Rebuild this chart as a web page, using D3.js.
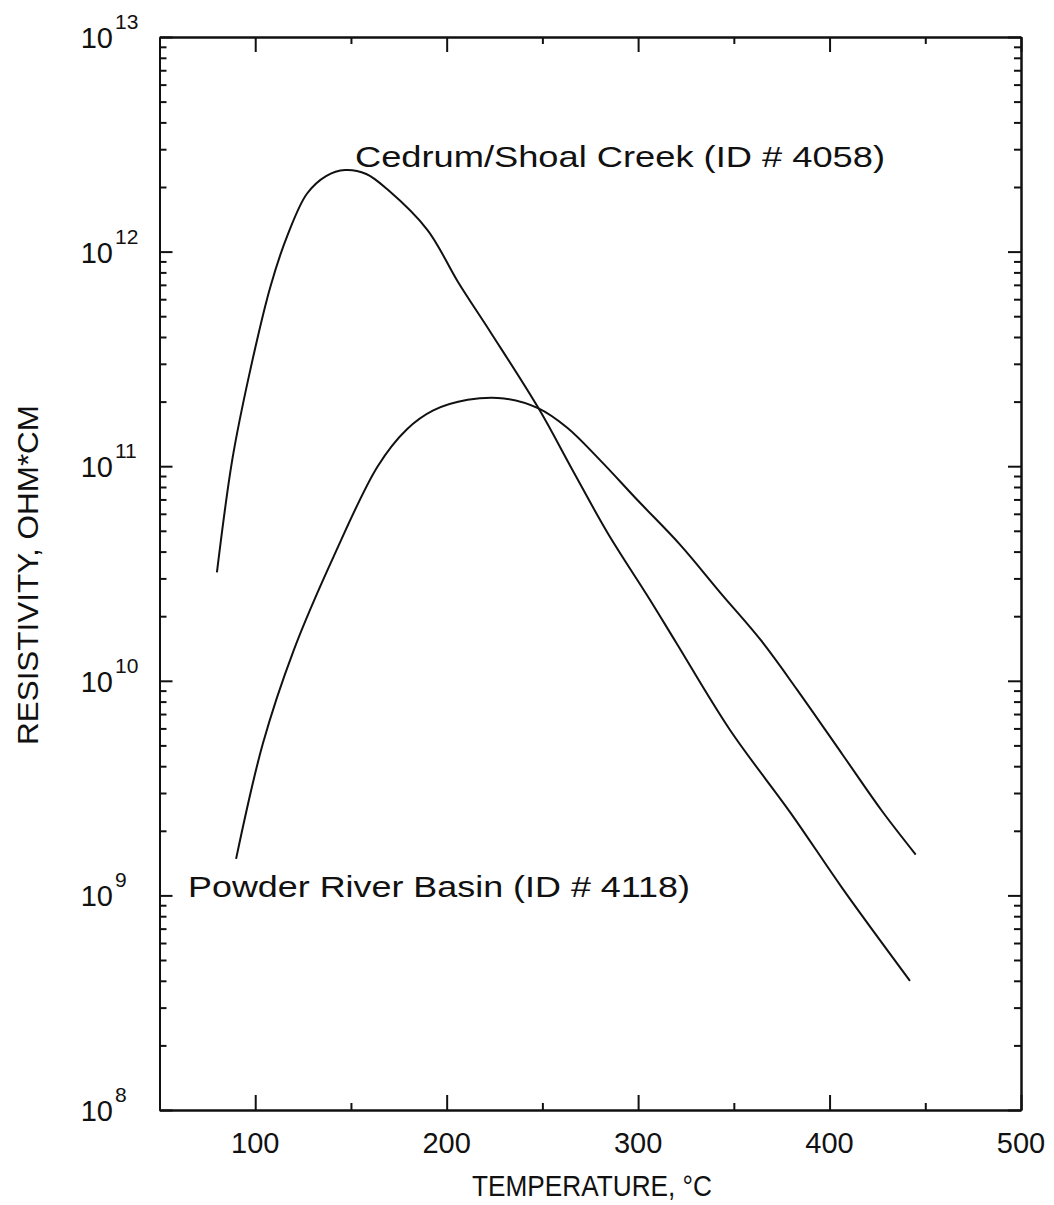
<!DOCTYPE html>
<html>
<head>
<meta charset="utf-8">
<script src="https://cdn.jsdelivr.net/npm/d3@7"></script>
<style>
  body { margin: 0; background: #fff; }
  text { font-family: "Liberation Sans", Arial, sans-serif; fill: #111; }
</style>
</head>
<body>
<svg id="chart" width="1054" height="1205"></svg>
<script>
// temperatures (deg C) and resistivities (ohm*cm)
const cedrumTemp = [80, 88, 97, 108, 117, 127, 137, 147, 158, 169, 190, 206, 223, 248, 266, 284, 306, 320, 348, 380, 407, 442];
const cedrumRes = [3.2e10, 1.07e11, 2.7e11, 6.9e11, 1.2e12, 1.86e12, 2.25e12, 2.4e12, 2.3e12, 1.95e12, 1.26e12, 7.2e11, 4.2e11, 1.86e11, 9.5e10, 4.9e10, 2.4e10, 1.5e10, 5.9e9, 2.4e9, 1.07e9, 4.0e8];

const powderTemp = [90, 104, 120, 141, 164, 179, 193, 211, 230, 248, 263, 280, 300, 322, 343, 364, 383, 407, 427, 445];
const powderRes = [1.48e9, 5.1e9, 1.38e10, 3.8e10, 1.0e11, 1.48e11, 1.82e11, 2.04e11, 2.07e11, 1.86e11, 1.51e11, 1.07e11, 6.9e10, 4.3e10, 2.57e10, 1.55e10, 9.1e9, 4.5e9, 2.5e9, 1.55e9];

const xTicks = [100, 200, 300, 400, 500];
const xMinor = [150, 250, 350, 450];
const yExponents = [8, 9, 10, 11, 12, 13];

const cedrumLabel = "Cedrum/Shoal Creek (ID # 4058)";
const powderLabel = "Powder River Basin (ID # 4118)";

let svg = d3.select("#chart");

let x = d3.scaleLinear().domain([50, 500]).range([159.5, 1021]);
let y = d3.scaleLog().domain([1e8, 1e13]).range([1110, 37]);

// minor ticks on the log axis: 2..9 in every decade
let yMinor = [];
for (let e = 8; e < 13; e++) {
  for (let k = 2; k <= 9; k++) yMinor.push(k * Math.pow(10, e));
}
let yMajor = yExponents.map(e => Math.pow(10, e));

function styleAxis(g) {
  g.selectAll("path, line").attr("stroke", "#111").attr("stroke-width", 2);
  g.selectAll("text").remove();
}

// left + right axes (ticks point inward)
svg.append("g").attr("transform", "translate(159.5,0)")
  .call(d3.axisRight(y).tickValues(yMajor).tickSize(13).tickSizeOuter(0)).call(styleAxis);
svg.append("g").attr("transform", "translate(159.5,0)")
  .call(d3.axisRight(y).tickValues(yMinor).tickSize(7).tickSizeOuter(0)).call(styleAxis);
svg.append("g").attr("transform", "translate(1021,0)")
  .call(d3.axisLeft(y).tickValues(yMajor).tickSize(13).tickSizeOuter(0)).call(styleAxis);
svg.append("g").attr("transform", "translate(1021,0)")
  .call(d3.axisLeft(y).tickValues(yMinor).tickSize(7).tickSizeOuter(0)).call(styleAxis);

// bottom + top axes
svg.append("g").attr("transform", "translate(0,1110)")
  .call(d3.axisTop(x).tickValues(xTicks).tickSize(15).tickSizeOuter(0)).call(styleAxis);
svg.append("g").attr("transform", "translate(0,1110)")
  .call(d3.axisTop(x).tickValues(xMinor).tickSize(7).tickSizeOuter(0)).call(styleAxis);
svg.append("g").attr("transform", "translate(0,37)")
  .call(d3.axisBottom(x).tickValues(xTicks).tickSize(15).tickSizeOuter(0)).call(styleAxis);
svg.append("g").attr("transform", "translate(0,37)")
  .call(d3.axisBottom(x).tickValues(xMinor).tickSize(7).tickSizeOuter(0)).call(styleAxis);

// x tick labels
svg.selectAll(".xlab").data(xTicks).join("text")
  .attr("class", "xlab")
  .attr("x", d => x(d))
  .attr("y", 1153)
  .attr("text-anchor", "middle")
  .attr("font-size", 29)
  .text(d => d);

// y tick labels as 10 with superscript exponent
let ylab = svg.selectAll(".ylab").data(yExponents).join("g").attr("class", "ylab");
ylab.append("text")
  .attr("x", 113)
  .attr("y", d => y(Math.pow(10, d)) + 11)
  .attr("text-anchor", "end")
  .attr("font-size", 29)
  .text("10");
ylab.append("text")
  .attr("x", 115)
  .attr("y", d => y(Math.pow(10, d)) - 8)
  .attr("font-size", 21)
  .text(d => d);

// axis titles
svg.append("text")
  .attr("x", 592)
  .attr("y", 1196)
  .attr("text-anchor", "middle")
  .attr("font-size", 29)
  .attr("textLength", 240)
  .attr("lengthAdjust", "spacingAndGlyphs")
  .text("TEMPERATURE, °C");

svg.append("text")
  .attr("transform", "translate(38,575) rotate(-90)")
  .attr("text-anchor", "middle")
  .attr("font-size", 30)
  .attr("textLength", 340)
  .attr("lengthAdjust", "spacingAndGlyphs")
  .text("RESISTIVITY, OHM*CM");

// curves
let line = d3.line()
  .x(d => x(d[0]))
  .y(d => y(d[1]))
  .curve(d3.curveCatmullRom.alpha(0.5));

let cedrum = cedrumTemp.map((t, i) => [t, cedrumRes[i]]);
let powder = powderTemp.map((t, i) => [t, powderRes[i]]);

svg.append("path").datum(cedrum)
  .attr("d", line).attr("fill", "none").attr("stroke", "#111").attr("stroke-width", 2);
svg.append("path").datum(powder)
  .attr("d", line).attr("fill", "none").attr("stroke", "#111").attr("stroke-width", 2);

// curve labels
svg.append("text")
  .attr("x", 355).attr("y", 167)
  .attr("font-size", 29)
  .attr("textLength", 530)
  .attr("lengthAdjust", "spacingAndGlyphs")
  .text(cedrumLabel);
svg.append("text")
  .attr("x", 188).attr("y", 897)
  .attr("font-size", 29)
  .attr("textLength", 502)
  .attr("lengthAdjust", "spacingAndGlyphs")
  .text(powderLabel);
</script>
</body>
</html>
